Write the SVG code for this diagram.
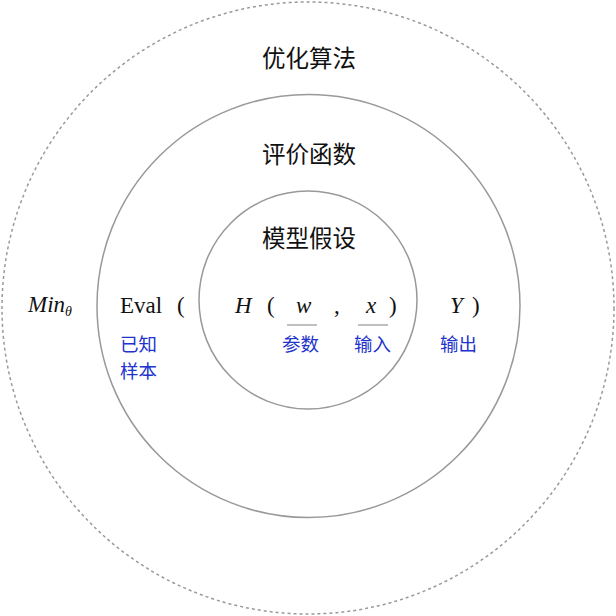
<svg xmlns="http://www.w3.org/2000/svg" width="616" height="616" viewBox="0 0 616 616">
<style>
.ring{fill:none;stroke:#999;stroke-width:1.5}
.t{font-family:"Noto Sans CJK SC","Noto Sans",sans-serif;font-size:23.5px;fill:#111;text-anchor:middle}
.m{font-family:"Liberation Serif","DejaVu Serif",serif;font-size:23px;fill:#111}
.i{font-style:italic}
.b{font-family:"Noto Sans CJK SC","Noto Sans",sans-serif;font-size:18.5px;fill:#2233cc}
.ul{stroke:#aaa;stroke-width:1.5}
</style>
<rect width="616" height="616" fill="#fff"/>
<g id="outer">
<circle class="ring" cx="308" cy="308" r="306" stroke-dasharray="3,3"/>
<text class="t" x="309" y="67">优化算法</text>
<text class="m i" x="28" y="312">Min<tspan font-size="14" dy="4">θ</tspan></text>
</g>
<g id="middle">
<circle class="ring" cx="308.5" cy="306" r="211.5"/>
<text class="t" x="309" y="163">评价函数</text>
<text class="m" x="120" y="313">Eval</text>
<text class="m" x="177" y="313">(</text>
<text class="m i" x="450" y="313">Y</text>
<text class="m" x="472" y="313">)</text>
<text class="b" x="120" y="351">已知</text>
<text class="b" x="120" y="378">样本</text>
<text class="b" x="440" y="351">输出</text>
</g>
<g id="inner">
<circle class="ring" cx="308" cy="300" r="109"/>
<text class="t" x="309" y="247">模型假设</text>
<text class="m i" x="235" y="313">H</text>
<text class="m" x="267" y="313">(</text>
<text class="m i" x="296" y="313">w</text>
<text class="m" x="334" y="313">,</text>
<text class="m i" x="366" y="313">x</text>
<text class="m" x="389" y="313">)</text>
<line class="ul" x1="287" y1="325" x2="317" y2="325"/>
<line class="ul" x1="358" y1="325" x2="388" y2="325"/>
<text class="b" x="282" y="351">参数</text>
<text class="b" x="354" y="351">输入</text>
</g>
<g id="connectors"/>
</svg>
